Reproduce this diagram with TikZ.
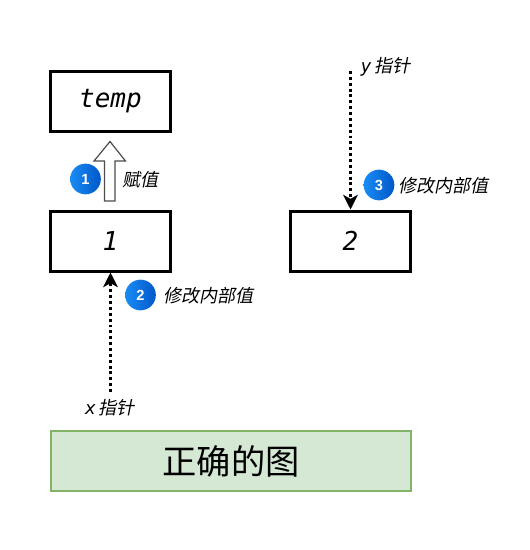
\documentclass[tikz,border=0pt]{standalone}
\usepackage{fontspec}
\setmainfont{DejaVu Sans}
\newfontfamily\cjkslant[FakeSlant=0.2]{Noto Sans CJK SC}
\newfontfamily\cjkup{Noto Sans CJK SC}
\newfontfamily\monoslant{DejaVu Sans Mono Oblique}
\newfontfamily\badgefont{Liberation Sans Bold}
\usetikzlibrary{arrows.meta}
\definecolor{grfill}{HTML}{D5E8D4}
\definecolor{grline}{HTML}{82B366}
\definecolor{blL}{HTML}{1A8CF5}
\definecolor{blR}{HTML}{0057C8}
\tikzset{
  x=0.75pt,y=-0.75pt,
  boxn/.style={draw=black,line width=2.25pt,fill=white,minimum width=90pt,minimum height=45pt,inner sep=0pt,font=\monoslant\fontsize{19.5}{19.5}\selectfont},
  titlen/.style={draw=grline,line width=1.5pt,fill=grfill,minimum width=270pt,minimum height=45pt,inner sep=0pt,font=\cjkup\fontsize{25.7}{25.7}\selectfont},
  lab/.style={inner sep=0pt,font=\cjkslant\fontsize{13.5}{15}\selectfont},
  badge/.style={circle,minimum size=23pt,inner sep=0pt,left color=blL,right color=blR,text=white,font=\badgefont\fontsize{11}{11}\selectfont},
  ptr/.style={line width=2.2pt,dash pattern=on 2.2pt off 2.2pt,-{Stealth[length=11pt,width=11pt,inset=3pt]}},
  blockarrow/.style={draw=black!70,line width=0.9pt,fill=white}
}
\begin{document}
\begin{tikzpicture}
\useasboundingbox (0,0) rectangle (530,550);
\node[boxn] (temp) at (110.5,101) {temp};
\node[boxn] (one) at (110.5,241) {1};
\node[boxn] (two) at (350.5,241) {2};
\node[titlen] (title) at (230.5,461) {\hspace{1pt}正确的图};
\coordinate (xs) at (110.5,392);
\coordinate (ys) at (350.5,71);
\draw[ptr] (xs) -- (one.south);
\draw[ptr] (ys) -- (two.north);
\draw[blockarrow] (110,141.5) -- (125.5,161) -- (115,161) -- (115,201) -- (104.5,201) -- (104.5,161) -- (94,161) -- cycle;
\node[lab] (xl) at (110,408) {\monoslant x\,\cjkslant 指针};
\node[lab] (yl) at (385.5,67) {\monoslant y\,\cjkslant 指针};
\node[badge] (b1) at (85.5,179) {1};
\node[lab] (t1) at (140.5,179.5) {赋值};
\node[badge] (b2) at (140.5,295) {2};
\node[lab] (t2) at (208,296) {修改内部值};
\node[badge] (b3) at (379,185) {3};
\node[lab] (t3) at (443.5,185.5) {修改内部值};
\end{tikzpicture}
\end{document}
